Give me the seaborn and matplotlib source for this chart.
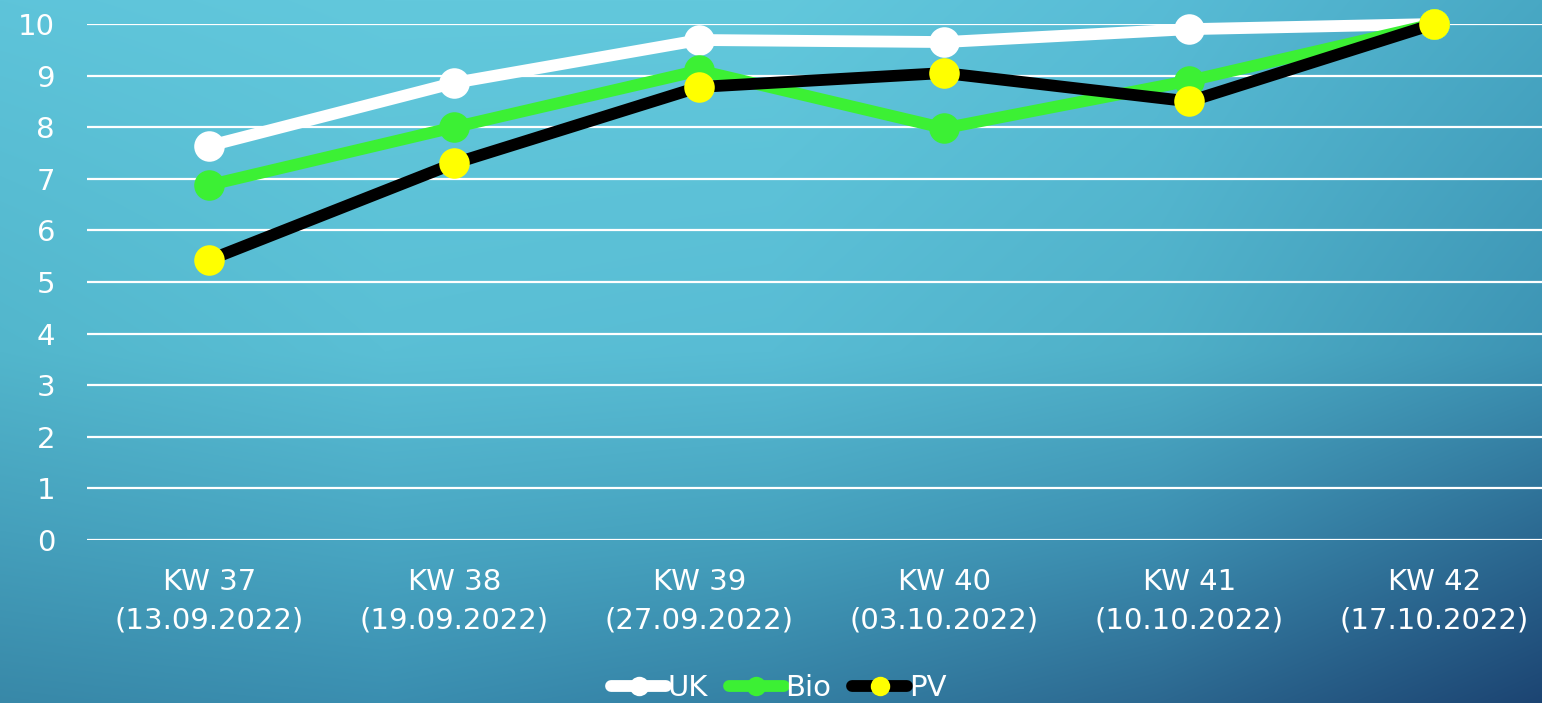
import numpy as np
import pandas as pd
import seaborn as sns
import matplotlib.pyplot as plt
from matplotlib.colors import to_rgb
from matplotlib.lines import Line2D

# Data
weeks = ["KW 37\n(13.09.2022)", "KW 38\n(19.09.2022)", "KW 39\n(27.09.2022)",
         "KW 40\n(03.10.2022)", "KW 41\n(10.10.2022)", "KW 42\n(17.10.2022)"]
uk = [7.64, 8.86, 9.69, 9.65, 9.9, 10.0]
bio = [6.88, 8.0, 9.1, 7.98, 8.9, 10.0]
pv = [5.43, 7.3, 8.78, 9.05, 8.5, 10.0]
y_ticks = list(range(0, 11))

series = {"UK": uk, "Bio": bio, "PV": pv}
styles = {
    "UK": dict(color="white", mfc="white"),
    "Bio": dict(color="#3cf034", mfc="#3cf034"),
    "PV": dict(color="black", mfc="#ffff00"),
}

df = pd.concat([pd.DataFrame({"week": weeks, "value": v, "series": k})
                for k, v in series.items()])

sns.set_style("white")
plt.rcParams['font.family'] = ['DejaVu Sans']

W, H = 1542, 703
fig = plt.figure(figsize=(W / 100, H / 100), dpi=100)

# gradient background (slide style), bilinear between a few sampled colours
gx = [0, 385, 771, 1156, 1542]
gy = [0, 351, 530, 703]
gcols = [["#5ec4da", "#62c8dc", "#62c8dc", "#58bcd6", "#48a8c4"],
         ["#52b6cc", "#5abfd5", "#58bcd4", "#4fb0c8", "#3d94b4"],
         ["#45a0bc", "#4aa8c4", "#46a2be", "#3d90b2", "#2c6a92"],
         ["#3888a8", "#3a8eb0", "#3480a4", "#2c6890", "#1c4472"]]
pts = np.array([[to_rgb(c) for c in row] for row in gcols])
xs = np.arange(W)
ys = np.arange(H)
rows = np.stack([np.stack([np.interp(xs, gx, pts[r, :, ch]) for ch in range(3)], -1)
                 for r in range(len(gy))])
img = np.stack([np.stack([np.interp(ys, gy, rows[:, i, ch]) for ch in range(3)], -1)
                for i in range(W)], 1)
bg = fig.add_axes([0, 0, 1, 1], zorder=-10)
bg.imshow(img, aspect="auto", interpolation="bilinear")
bg.set_axis_off()

ax = fig.add_axes([87 / W, 1 - 540 / H, 1 - 87 / W, (540 - 24) / H])
ax.patch.set_alpha(0)

for i, (name, vals) in enumerate(series.items()):
    st = styles[name]
    sns.lineplot(data=df[df.series == name], x="week", y="value", sort=False,
                 ax=ax, color=st["color"], lw=8.5, marker="o", markersize=22,
                 markerfacecolor=st["mfc"], markeredgewidth=0,
                 clip_on=False, zorder=3 + i, legend=False)

ax.set_ylim(0, 10)
ax.set_xlim(-0.5, 5.44)
ax.set_yticks(y_ticks)
ax.yaxis.grid(True, color="white", lw=1.6)
ax.set_axisbelow(True)
ax.xaxis.grid(False)
for s in ax.spines.values():
    s.set_visible(False)
ax.tick_params(axis="y", length=0, pad=23, labelsize=21, labelcolor="white")
ax.tick_params(axis="x", length=0, pad=20, labelsize=21, labelcolor="white")
for lab in ax.get_xticklabels():
    lab.set_linespacing(1.5)
ax.set_xlabel("")
ax.set_ylabel("")

handles = [Line2D([], [], color=styles[k]["color"], lw=8.5, marker="o",
                  markersize=14, markerfacecolor=styles[k]["mfc"],
                  markeredgewidth=0, solid_capstyle="round")
           for k in series]
fig.legend(handles, list(series.keys()), loc="center", bbox_to_anchor=(0.505, 1 - 688 / H),
           ncol=3, frameon=False, fontsize=21, labelcolor="white",
           handlelength=1.9, handletextpad=0.05, columnspacing=0.7)

fig.savefig("out.png", dpi=100)
